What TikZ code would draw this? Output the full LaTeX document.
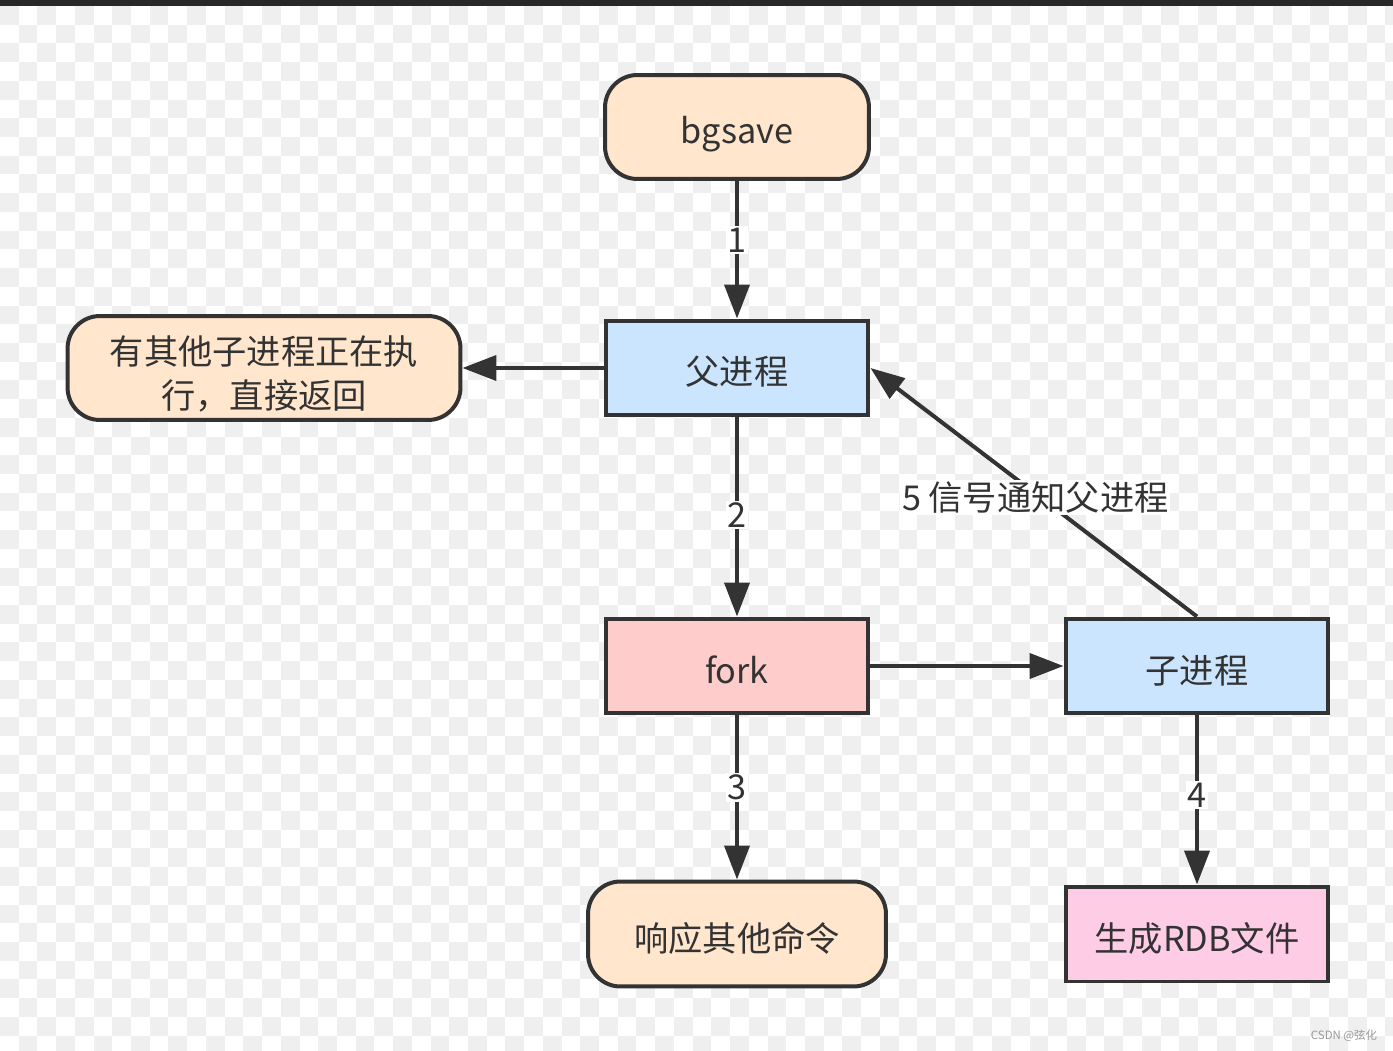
\documentclass[tikz,border=0pt]{standalone}
\usepackage{fontspec}
\setmainfont{Noto Sans CJK SC}
\usepackage{tikz}
\usetikzlibrary{arrows.meta}

\definecolor{ink}{HTML}{333333}
\definecolor{peach}{HTML}{FFE6CC}
\definecolor{sky}{HTML}{CCE5FF}
\definecolor{rose}{HTML}{FFCCCC}
\definecolor{pinkish}{HTML}{FFCCE6}
\definecolor{tile}{HTML}{EFEFEF}
\definecolor{topbar}{HTML}{282828}

\begin{document}
\begin{tikzpicture}[x=0.02cm,y=-0.02cm,
  box/.style={draw=ink,line width=0.08cm,minimum width=5.26cm,minimum height=1.9cm,
    inner sep=0pt,text height=0.88cm,text depth=0.2cm,text=ink,font=\fontsize{19.5}{25.6}\selectfont},
  pill/.style={box,fill=peach,rounded corners=0.65cm,minimum width=5.28cm,minimum height=2.08cm},
  flow/.style={draw=ink,line width=0.08cm,-{Triangle[length=0.68cm,width=0.5cm]}},
  num/.style={fill=white,inner sep=1pt,text=ink,font=\fontsize{19.5}{24}\selectfont}]
\useasboundingbox (0,0) rectangle (1393,1051);

% checkered backdrop
\begin{scope}
\clip (0,0) rectangle (1393,1051);
\fill[white] (0,0) rectangle (1393,1051);
\foreach \j in {0,...,55}{
  \foreach \i in {0,...,37}{
    \fill[tile] ({(2*\i+mod(\j,2))*18.72},{6+\j*18.72}) rectangle +(18.72,18.72);
  }
}
\fill[topbar] (0,0) rectangle (1393,6);
\end{scope}

% boxes
\node[pill] (bg) at (737,127) {bgsave};
\node[box,fill=sky] (fu) at (737,368) {父进程};
\node[pill,minimum width=7.86cm,align=center,text height=1.72cm,text depth=0.08cm] (busy) at (264,368) {有其他子进程正在执\\行，直接返回};
\node[box,fill=rose] (fork) at (737,666) {fork};
\node[box,fill=sky] (zi) at (1197,666) {子进程};
\node[pill,minimum width=5.96cm,minimum height=2.1cm] (resp) at (737,934) {响应其他命令};
\node[box,fill=pinkish] (rdb) at (1197,934) {生成RDB文件};

% arrows
\draw[flow] (bg) -- node[num,pos=0.43] {1} (fu);
\draw[flow] (fu) -- (busy);
\draw[flow] (fu) -- node[num,pos=0.49] {2} (fork);
\draw[flow] (fork) -- (zi);
\draw[flow] (fork) -- node[num,pos=0.44] {3} (resp);
\draw[flow] (zi) -- node[num,pos=0.47] {4} (rdb);
\draw[flow] (zi.north) -- node[num,pos=0.48,xshift=-0.1cm] {5 信号通知父进程} (fu.east);

\node[text=gray!80,font=\fontsize{6.5}{8}\selectfont] (mark) at (1344,1036) {CSDN @弦化};
\end{tikzpicture}
\end{document}
